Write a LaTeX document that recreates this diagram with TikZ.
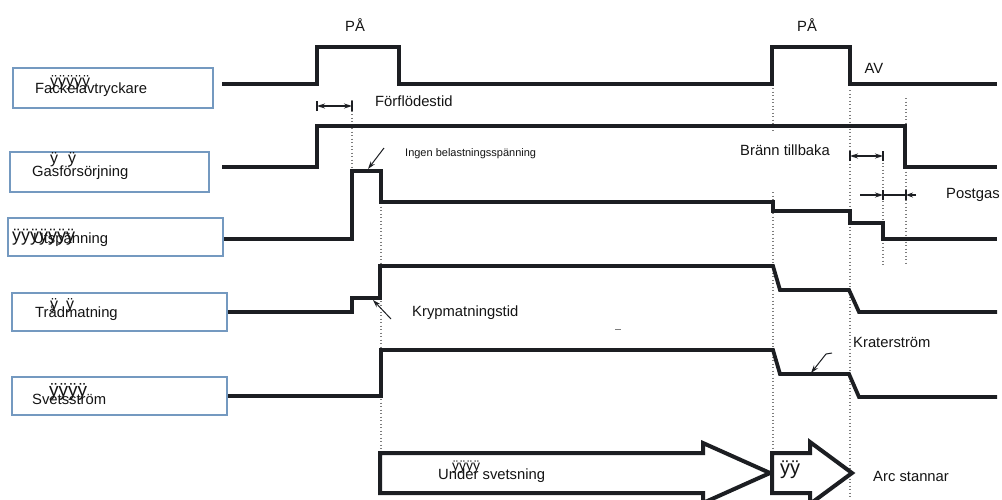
\documentclass[tikz,border=0pt]{standalone}
\usepackage{fontspec}
\setmainfont{Liberation Sans}
\usetikzlibrary{arrows.meta}
\definecolor{boxblue}{RGB}{116,153,192}
\definecolor{sigcol}{RGB}{28,30,34}
\definecolor{txtcol}{RGB}{20,20,20}
\definecolor{dotcol}{RGB}{125,125,125}
\begin{document}
\begin{tikzpicture}[x=1pt,y=-1pt,
  sigline/.style={draw=sigcol, line width=3.8pt, line join=miter, line cap=butt},
  lbox/.style={draw=boxblue, line width=2.8pt, fill=white, minimum width=200pt, minimum height=40pt, inner sep=0pt},
  lbl/.style={text=txtcol, inner sep=0pt, font=\fontsize{14.8pt}{17pt}\selectfont},
  smalllbl/.style={text=txtcol, inner sep=0pt, font=\fontsize{11pt}{13pt}\selectfont},
  ylbl/.style={text=txtcol, inner sep=0pt, font=\fontsize{#1pt}{#1pt}\selectfont},
  dotline/.style={draw=dotcol, line width=1.1pt, dash pattern=on 1pt off 2.5pt},
  dimline/.style={draw=sigcol, line width=1.1pt},
  tipstyle/.style={-{Stealth[length=8pt,width=5pt]}},
  annot/.style={draw=sigcol, line width=1pt, -{Stealth[length=8pt,width=5pt]}},
  bigarrow/.style={draw=sigcol, line width=4pt, line join=miter, fill=white}
]
\useasboundingbox (0,0) rectangle (1002,499);

% ---------- label boxes ----------
\node[lbox, minimum width=200pt] (b1) at (113,88) {};
\node[lbox, minimum width=199pt] (b2) at (109.5,172) {};
\node[lbox, minimum width=215pt, minimum height=38pt] (b3) at (115.5,237) {};
\node[lbox, minimum width=215pt, minimum height=38pt] (b4) at (119.5,312) {};
\node[lbox, minimum width=215pt, minimum height=38pt] (b5) at (119.5,396) {};

\node[lbl, anchor=west] (t1) at (35,90) {Fackelavtryckare};
\node[ylbl=16, anchor=west] (y1) at (50,83) {ÿÿÿÿÿ};
\node[lbl, anchor=west] (t2) at (32,173) {Gasförsörjning};
\node[ylbl=16, anchor=west] (y2a) at (50,160) {ÿ};
\node[ylbl=16, anchor=west] (y2b) at (68,160) {ÿ};
\node[lbl, anchor=west] (t3) at (33,240) {Utspänning};
\node[ylbl=18, anchor=west] (y3) at (12,237) {ÿÿÿÿÿÿÿ};
\node[lbl, anchor=west] (t4) at (35,313) {Trådmatning};
\node[ylbl=16, anchor=west] (y4a) at (50,306) {ÿ};
\node[ylbl=16, anchor=west] (y4b) at (66,306) {ÿ};
\node[lbl, anchor=west] (t5) at (32,399) {Svetsström};
\node[ylbl=19, anchor=west] (y5) at (49,392) {ÿÿÿÿ};

% ---------- dotted time markers ----------
\draw[dotline] (352,100) -- (352,170);
\draw[dotline] (381,203) -- (381,450);
\draw[dotline] (773,88) -- (773,132);
\draw[dotline] (773,192) -- (773,453);
\draw[dotline] (850,90) -- (850,497);
\draw[dotline] (883,152) -- (883,267);
\draw[dotline] (906,98) -- (906,265);

% ---------- waveforms ----------
\draw[sigline] (222,84) -- (317,84) -- (317,47) -- (399,47) -- (399,84) -- (772,84) -- (772,47) -- (850,47) -- (850,84) -- (997,84);
\draw[sigline] (222,167) -- (317,167) -- (317,126) -- (905,126) -- (905,167) -- (997,167);
\draw[sigline] (224,239) -- (352,239) -- (352,171) -- (381,171) -- (381,202) -- (773,202) -- (773,211) -- (850,211) -- (850,223) -- (883,223) -- (883,239) -- (997,239);
\draw[sigline] (228,312) -- (352,312) -- (352,298) -- (380,298) -- (380,266) -- (773,266) -- (780,290) -- (849,290) -- (859,312) -- (997,312);
\draw[sigline] (228,396) -- (381,396) -- (381,350) -- (773,350) -- (780,374) -- (849,374) -- (859,397) -- (997,397);

% ---------- dimension markers ----------
\coordinate (f1) at (317,106);
\coordinate (f2) at (352,106);
\draw[dimline] ([yshift=-5pt]f1) -- ([yshift=5pt]f1);
\draw[dimline] ([yshift=-5pt]f2) -- ([yshift=5pt]f2);
\draw[dimline, {Stealth[length=8pt,width=5pt]}-{Stealth[length=8pt,width=5pt]}] (f1) -- (f2);

\coordinate (bt1) at (850,156);
\coordinate (bt2) at (883,156);
\draw[dimline] ([yshift=-5pt]bt1) -- ([yshift=5pt]bt1);
\draw[dimline] ([yshift=-5pt]bt2) -- ([yshift=5pt]bt2);
\draw[dimline, {Stealth[length=8pt,width=5pt]}-{Stealth[length=8pt,width=5pt]}] (bt1) -- (bt2);

\coordinate (pg0) at (860,195);
\coordinate (pg1) at (883,195);
\coordinate (pg2) at (906,195);
\coordinate (pg3) at (916,195);
\draw[dimline] ([yshift=-5pt]pg1) -- ([yshift=5pt]pg1);
\draw[dimline] ([yshift=-5pt]pg2) -- ([yshift=5pt]pg2);
\draw[dimline, tipstyle] (pg0) -- (pg1);
\draw[dimline] (pg1) -- (pg2);
\draw[dimline, -{Stealth[length=7pt,width=5pt]}] (pg3) -- (pg2);

% ---------- annotation arrows ----------
\coordinate (a1s) at (384,148);
\coordinate (a1e) at (368,169);
\draw[annot] (a1s) -- (a1e);
\coordinate (a2s) at (391,319);
\coordinate (a2e) at (373,300);
\draw[annot] (a2s) -- (a2e);
\coordinate (a3s) at (832,353);
\coordinate (a3m) at (826,354);
\coordinate (a3e) at (811,373);
\draw[annot] (a3s) -- (a3m) -- (a3e);
\coordinate (d1) at (615,329);
\coordinate (d2) at (621,329);
\draw[draw=dotcol, line width=1pt] (d1) -- (d2);

% ---------- phase arrows ----------
\draw[bigarrow] (380,453) -- (703,453) -- (703,443) -- (770,473) -- (703,503) -- (703,493) -- (380,493) -- cycle;
\draw[bigarrow] (772,453) -- (810,453) -- (810,442) -- (852,473) -- (810,504) -- (810,493) -- (772,493) -- cycle;

% ---------- texts ----------
\node[lbl] (pa1) at (355,25) {PÅ};
\node[lbl] (pa2) at (807,25) {PÅ};
\node[lbl] (av) at (874,68) {AV};
\node[lbl, anchor=west] (ff) at (375,101) {Förflödestid};
\node[smalllbl, anchor=west] (ib) at (405,154) {Ingen belastningsspänning};
\node[lbl, anchor=west] (bt) at (740,150) {Bränn tillbaka};
\node[lbl, anchor=west] (pg) at (946,195) {Postgas};
\node[lbl, anchor=west] (km) at (412,313) {Krypmatningstid};
\node[lbl, anchor=west] (ks) at (853,342) {Kraterström};
\node[lbl, anchor=west] (us) at (438,476) {Under svetsning};
\node[ylbl=14, anchor=west] (uy) at (452,467) {ÿÿÿÿ};
\node[ylbl=20, anchor=west] (ay) at (780,470) {ÿÿ};
\node[lbl, anchor=west] (as) at (873,476) {Arc stannar};
\end{tikzpicture}
\end{document}
